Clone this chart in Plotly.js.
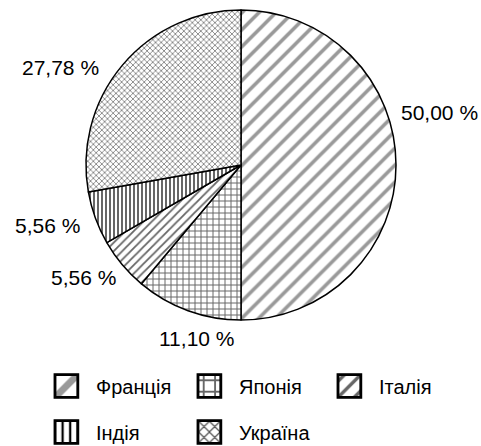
<!DOCTYPE html>
<html>
<head>
<meta charset="utf-8">
<script src="https://cdn.plot.ly/plotly-3.0.1.min.js"></script>
<style>html,body{margin:0;padding:0;background:#fff}#chart{width:481px;height:446px}</style>
</head>
<body>
<div id="chart"></div>
<script>
const countries = ['Франція', 'Японія', 'Італія', 'Індія', 'Україна'];
const shares = [50.00, 11.10, 5.56, 5.56, 27.78];

const W = 481, H = 446;
// label anchor pixel positions (layout only)
const labelPos = [[439, 113], [197, 338], [83, 277], [47, 225], [60, 67]];
// legend entry text-left x and row centre y (layout only)
const legendX = [96, 239, 379, 96, 239];
const legendY = [386, 386, 386, 432, 432];

const patterns = {
  shape: ['/', '+', '/', '|', 'x'],
  size: [12, 6, 6, 4, 4],
  solidity: [0.3, 0.3, 0.3, 0.3, 0.3],
  fgcolor: ['#999', '#666', '#666', '#000', '#555'],
  bgcolor: ['#fff', '#fff', '#fff', '#fff', '#fff'],
  fillmode: 'replace'
};

const cx = 241, cy = 165, r = 155;
const data = [{
  type: 'pie',
  labels: countries,
  values: shares,
  sort: false,
  direction: 'clockwise',
  rotation: 0,
  textinfo: 'none',
  hoverinfo: 'label+value',
  marker: {
    colors: ['#fff', '#fff', '#fff', '#fff', '#fff'],
    line: {color: '#000', width: 1.5},
    pattern: patterns
  },
  domain: {x: [(cx - r) / W, (cx + r) / W], y: [1 - (cy + r) / H, 1 - (cy - r) / H]}
}];

const annotations = shares.map((v, i) => ({
  text: v.toFixed(2).replace('.', ',') + ' %',
  x: labelPos[i][0] / W, y: 1 - labelPos[i][1] / H,
  xref: 'paper', yref: 'paper', xanchor: 'center', yanchor: 'middle',
  showarrow: false,
  font: {family: 'Liberation Sans, Arial, sans-serif', size: 21, color: '#000'}
}));

const layout = {
  width: W, height: H,
  margin: {l: 0, r: 0, t: 0, b: 0, autoexpand: false},
  paper_bgcolor: '#fff',
  font: {family: 'Liberation Sans, Arial, sans-serif', size: 20, color: '#000'},
  showlegend: true,
  legend: {
    orientation: 'h', x: 56 / W, xanchor: 'left', y: 1 - 370 / H, yanchor: 'top',
    entrywidth: 142, entrywidthmode: 'pixels',
    font: {size: 20}, traceorder: 'normal'
  },
  annotations: annotations
};

const SVGNS = 'http://www.w3.org/2000/svg';
Plotly.newPlot('chart', data, layout, {staticPlot: true}).then(gd => {
  gd.querySelectorAll('.legend [clip-path]').forEach(el => el.removeAttribute('clip-path'));
  const items = gd.querySelectorAll('.legend .traces');
  items.forEach((t, i) => {
    t.querySelectorAll('.legendpoints path').forEach(p => {
      p.setAttribute('transform', 'translate(-9.5,0) scale(1.9)');
    });
  });
  items.forEach((t, i) => {
    const m = /translate\(\s*([-\d.]+)[ ,]+([-\d.]+)\)/.exec(t.getAttribute('transform') || 'translate(0,0)');
    const x = parseFloat(m[1]), y = parseFloat(m[2]);
    const txt = t.querySelector('text');
    const pt = t.querySelector('.legendpoints path');
    const tr = txt.getBoundingClientRect();
    const pr = pt.getBoundingClientRect();
    const dx = legendX[i] - tr.left;
    const dy = legendY[i] - (pr.top + pr.height / 2);
    t.setAttribute('transform', 'translate(' + (x + dx) + ',' + (y + dy) + ')');
    const pr2 = pt.getBoundingClientRect();
    const shift = (legendX[i] - 41) - pr2.left;
    const tf = 'translate(' + (-9.5 + shift) + ',0) scale(1.9)';
    pt.setAttribute('transform', tf);
    const rect = document.createElementNS(SVGNS, 'rect');
    rect.setAttribute('x', -6); rect.setAttribute('y', -6);
    rect.setAttribute('width', 12); rect.setAttribute('height', 12);
    rect.setAttribute('transform', tf);
    rect.setAttribute('fill', 'none');
    rect.setAttribute('stroke', '#000');
    rect.setAttribute('stroke-width', 0.75);
    pt.parentNode.appendChild(rect);
  });
});
</script>
</body>
</html>
